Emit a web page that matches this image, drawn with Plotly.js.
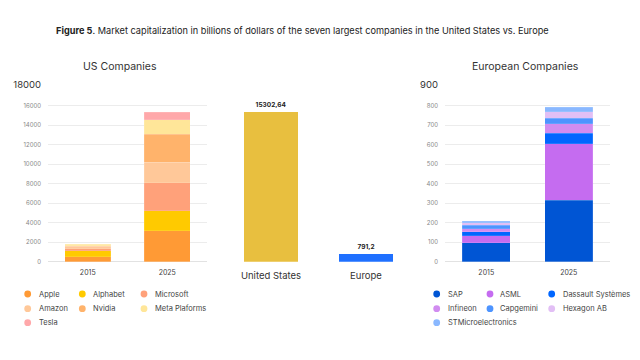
<!DOCTYPE html>
<html>
<head>
<meta charset="utf-8">
<script src="https://cdn.plot.ly/plotly-3.0.1.min.js"></script>
<style>html,body{margin:0;padding:0;background:#fff;}#chart{width:640px;height:360px;}</style>
</head>
<body>
<div id="chart"></div>
<script>
// ---- data ----
const years = ['2015', '2025'];
const usCompanies = ['Apple', 'Alphabet', 'Microsoft', 'Amazon', 'Nvidia', 'Meta Plaforms', 'Tesla'];
const us2015 = [510, 600, 230, 250, 20, 190, 50];
const us2025 = [3180, 2050, 2840, 2120, 2870, 1500, 743];
const euCompanies = ['SAP', 'ASML', 'Dassault Systèmes', 'Infineon', 'Capgemini', 'Hexagon AB', 'STMicroelectronics'];
const eu2015 = [97, 36, 21, 15, 19, 12, 8];
const eu2025 = [315, 290, 54, 48, 29, 33, 22.2];
const regions = ['United States', 'Europe'];
const regionTotals = [15302.64, 791.2];
const usTicks = [0, 2000, 4000, 6000, 8000, 10000, 12000, 14000, 16000, 18000];
const euTicks = [0, 100, 200, 300, 400, 500, 600, 700, 800, 900];

// ---- styles ----
const usColors = ['#FF9A35', '#FFCA00', '#FFA17A', '#FFC899', '#FFB36B', '#FFE699', '#FFA8AA'];
const euColors = ['#0055D4', '#C56CF0', '#0066FF', '#D18CF0', '#4D94FF', '#E2BFF5', '#8AB8FF'];
const regionColors = ['#E8BF3F', '#1F70FF'];
const FONT = 'Inter, "Noto Sans", sans-serif';
const W = 640, H = 360;
const px = x => x / W;
const py = y => (H - y) / H;

const traces = [];
usCompanies.forEach((name, i) => {
  traces.push({
    type: 'bar', x: years, y: [us2015[i], us2025[i]], name: name,
    xaxis: 'x', yaxis: 'y', width: 0.58, showlegend: false,
    marker: {color: usColors[i], line: {width: 0.5, color: 'rgba(255,255,255,0.25)'}},
    hoverinfo: 'skip'
  });
});
traces.push({
  type: 'bar', x: regions, y: regionTotals, xaxis: 'x2', yaxis: 'y2', width: 0.57,
  showlegend: false, hoverinfo: 'skip',
  marker: {color: regionColors},
  text: regionTotals.map(v => '<b>' + String(v).replace('.', ',') + '</b>'),
  textposition: 'outside', cliponaxis: false,
  textfont: {family: FONT, size: 6.5, color: '#222'}
});
euCompanies.forEach((name, i) => {
  traces.push({
    type: 'bar', x: years, y: [eu2015[i], eu2025[i]], name: name,
    xaxis: 'x3', yaxis: 'y3', width: 0.58, showlegend: false,
    marker: {color: euColors[i], line: {width: 0.5, color: 'rgba(255,255,255,0.25)'}},
    hoverinfo: 'skip'
  });
});

function tickText(vals) {
  return vals.map((v, i) => i === vals.length - 1
    ? '<span style="font-size:9.5px;color:#333">' + v + '</span>' : String(v));
}
const yBase = {
  showline: false, zeroline: true, zerolinecolor: '#e2e2e2', zerolinewidth: 1,
  gridcolor: '#ececec', gridwidth: 1, ticks: '', ticklabelstandoff: 6,
  tickfont: {family: FONT, size: 6, color: '#888'}, fixedrange: true,
  domain: [py(261.7), py(86)]
};
const xBase = {
  type: 'category', showline: false, showgrid: false, zeroline: false, ticks: '',
  tickfont: {family: FONT, size: 7, color: '#444'}, ticklabelstandoff: 5,
  range: [-0.5, 1.5], fixedrange: true
};

const annotations = [
  {text: '<b>Figure 5</b>. Market capitalization in billions of dollars of the seven largest companies in the United States vs. Europe',
   x: px(302), y: py(30), font: {family: FONT, size: 9.2, color: '#222'}},
  {text: 'US Companies', x: px(120), y: py(66), font: {family: FONT, size: 10.5, color: '#333'}},
  {text: 'European Companies', x: px(525), y: py(66), font: {family: FONT, size: 10.5, color: '#333'}}
].map(a => Object.assign({xref: 'paper', yref: 'paper', showarrow: false, xanchor: 'center', yanchor: 'middle'}, a));

const shapes = [];
const rowsY = [294, 308.7, 322.7];
function addLegend(names, colors, circX, textX) {
  names.forEach((n, i) => {
    const col = i % 3, row = Math.floor(i / 3);
    shapes.push({type: 'circle', xref: 'paper', yref: 'paper', xsizemode: 'pixel', ysizemode: 'pixel',
      xanchor: px(circX[col]), yanchor: py(rowsY[row]), x0: -3.4, x1: 3.4, y0: -3.4, y1: 3.4,
      fillcolor: colors[i], line: {width: 0}});
    annotations.push({text: n, xref: 'paper', yref: 'paper', showarrow: false, xanchor: 'left', yanchor: 'middle',
      x: px(textX[col]), y: py(rowsY[row]), font: {family: FONT, size: 7.5, color: '#444'}});
  });
}
addLegend(usCompanies, usColors, [27.7, 82.3, 144], [36.5, 90.8, 152.5]);
addLegend(euCompanies, euColors, [436.7, 490, 551.7], [445.5, 497.8, 561]);

const layout = {
  width: W, height: H, margin: {l: 0, r: 0, t: 0, b: 0},
  paper_bgcolor: '#fff', plot_bgcolor: '#fff', barmode: 'stack', showlegend: false,
  font: {family: FONT},
  xaxis: Object.assign({}, xBase, {domain: [px(48), px(207)], anchor: 'y'}),
  yaxis: Object.assign({}, yBase, {range: [0, 18000], tickvals: usTicks, ticktext: tickText(usTicks), anchor: 'x'}),
  xaxis2: Object.assign({}, xBase, {domain: [px(223.5), px(413.5)], anchor: 'y2',
    tickfont: {family: FONT, size: 9.5, color: '#333'}, ticklabelstandoff: 7}),
  yaxis2: {domain: [py(261.7), py(86)], range: [0, 18000], visible: false, anchor: 'x2', fixedrange: true},
  xaxis3: Object.assign({}, xBase, {domain: [px(445), px(610)], anchor: 'y3'}),
  yaxis3: Object.assign({}, yBase, {range: [0, 900], tickvals: euTicks, ticktext: tickText(euTicks), anchor: 'x3'}),
  annotations: annotations, shapes: shapes
};

Plotly.newPlot('chart', traces, layout, {staticPlot: true, displayModeBar: false});
</script>
</body>
</html>
